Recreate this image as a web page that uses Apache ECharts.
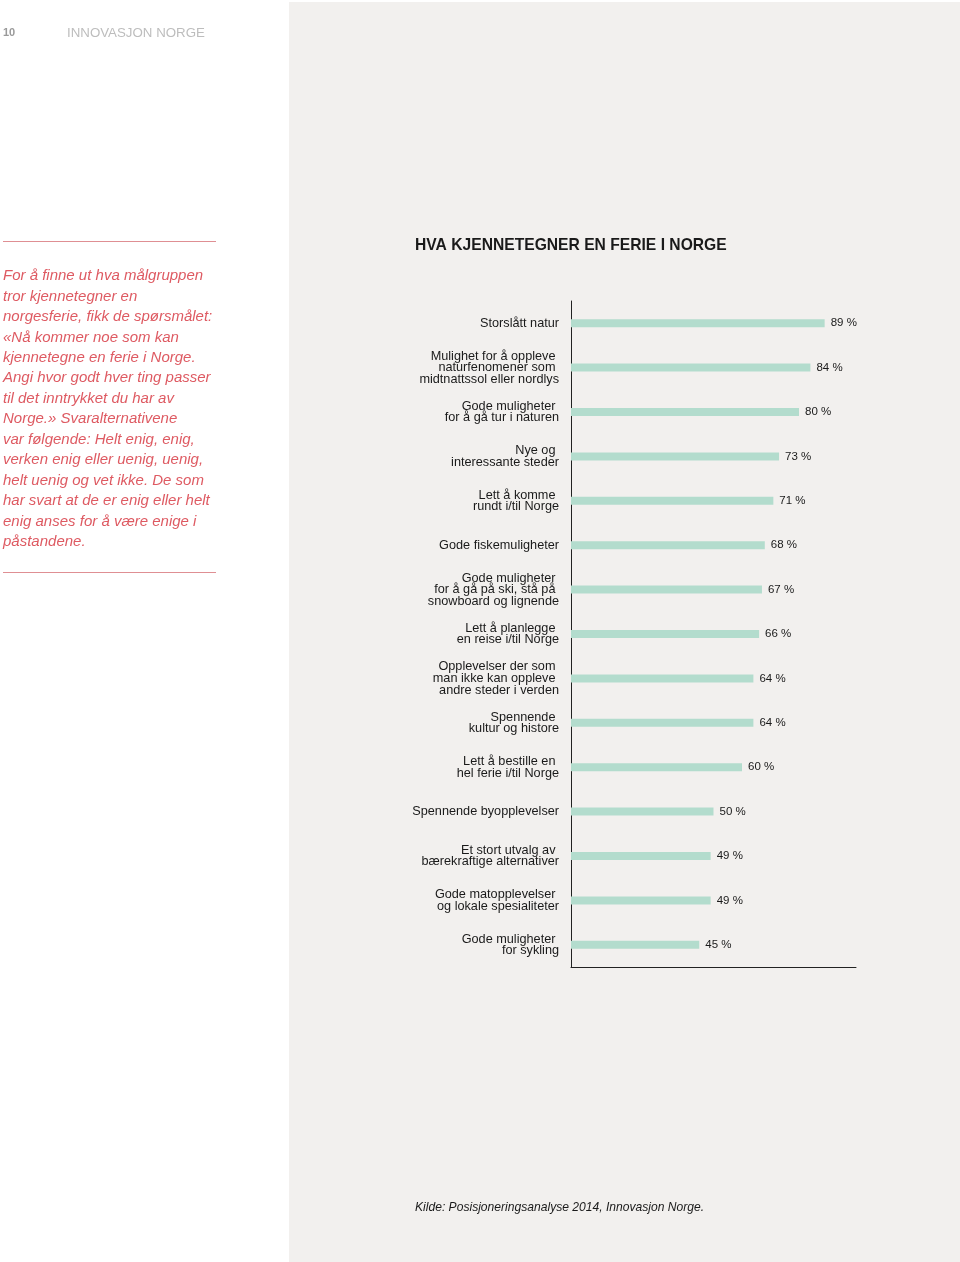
<!DOCTYPE html>
<html><head><meta charset="utf-8">
<script src="https://cdn.jsdelivr.net/npm/echarts@6/dist/echarts.min.js"></script>
<style>html,body{margin:0;padding:0;background:#fff}#c{width:960px;height:1262px}</style>
</head><body><div id="c"></div>
<script>
const categories = [
  "Storslått natur",
  "Mulighet for å oppleve \nnaturfenomener som \nmidtnattssol eller nordlys",
  "Gode muligheter \nfor å gå tur i naturen",
  "Nye og \ninteressante steder",
  "Lett å komme \nrundt i/til Norge",
  "Gode fiskemuligheter",
  "Gode muligheter \nfor å gå på ski, stå på \nsnowboard og lignende",
  "Lett å planlegge \nen reise i/til Norge",
  "Opplevelser der som \nman ikke kan oppleve \nandre steder i verden",
  "Spennende \nkultur og histore",
  "Lett å bestille en \nhel ferie i/til Norge",
  "Spennende byopplevelser",
  "Et stort utvalg av \nbærekraftige alternativer",
  "Gode matopplevelser \nog lokale spesialiteter",
  "Gode muligheter \nfor sykling"
];
const values = [89, 84, 80, 73, 71, 68, 67, 66, 64, 64, 60, 50, 49, 49, 45];
const title = "HVA KJENNETEGNER EN FERIE I NORGE";
const source = "Kilde: Posisjoneringsanalyse 2014, Innovasjon Norge.";
const introLines = [
  "For å finne ut hva målgruppen",
  "tror kjennetegner en",
  "norgesferie, fikk de spørsmålet:",
  "«Nå kommer noe som kan",
  "kjennetegne en ferie i Norge.",
  "Angi hvor godt hver ting passer",
  "til det inntrykket du har av",
  "Norge.» Svaralternativene",
  "var følgende: Helt enig, enig,",
  "verken enig eller uenig, uenig,",
  "helt uenig og vet ikke. De som",
  "har svart at de er enig eller helt",
  "enig anses for å være enige i",
  "påstandene."
];

const FONT = "'Liberation Sans', Arial, sans-serif";
const chart = echarts.init(document.getElementById('c'), null, {renderer: 'canvas'});

const graphics = [
  {type: 'rect', z: -10, shape: {x: 289, y: 2, width: 671, height: 1260}, style: {fill: '#f2f0ee'}},
  {type: 'text', x: 3, y: 33, style: {text: '10', font: 'bold 11px ' + FONT, fill: '#9a9a9a', textVerticalAlign: 'middle'}},
  {type: 'text', x: 67, y: 33, style: {text: 'INNOVASJON NORGE', font: '13.3px ' + FONT, fill: '#bdbdbd', textVerticalAlign: 'middle'}},
  {type: 'rect', shape: {x: 3, y: 241, width: 213, height: 1}, style: {fill: '#df8f93'}},
  {type: 'rect', shape: {x: 3, y: 572, width: 213, height: 1}, style: {fill: '#df8f93'}},
  {type: 'text', x: 415, y: 246, style: {text: title, font: 'bold 15.65px ' + FONT, fill: '#1a1a1a', textVerticalAlign: 'middle'}},
  {type: 'text', x: 415, y: 1207.5, style: {text: source, font: 'italic 12.1px ' + FONT, fill: '#1a1a1a', textVerticalAlign: 'middle'}}
];
introLines.forEach((t, i) => {
  graphics.push({type: 'text', x: 3, y: 276 + i * 20.45, style: {text: t, font: 'italic 15px ' + FONT, fill: '#de5a62', textVerticalAlign: 'middle'}});
});

chart.setOption({
  animation: false,
  backgroundColor: 'transparent',
  graphic: graphics,
  grid: {left: 571, top: 301, width: 285, height: 666, containLabel: false},
  xAxis: {
    type: 'value', min: 0, max: 100,
    axisLine: {show: true, lineStyle: {color: '#222', width: 1}},
    axisTick: {show: false}, axisLabel: {show: false}, splitLine: {show: false}
  },
  yAxis: {
    type: 'category', data: categories, inverse: true,
    axisLine: {show: true, lineStyle: {color: '#222', width: 1}},
    axisTick: {show: false},
    axisLabel: {margin: 12, fontFamily: FONT, fontSize: 12.7, lineHeight: 11.6, color: '#1a1a1a', align: 'right'}
  },
  series: [{
    type: 'bar', data: values, barWidth: 8,
    itemStyle: {color: '#b3dccd'},
    label: {show: true, position: 'right', distance: 6, formatter: '{c} %', fontFamily: FONT, fontSize: 11.5, color: '#1a1a1a'}
  }]
});
</script></body></html>
